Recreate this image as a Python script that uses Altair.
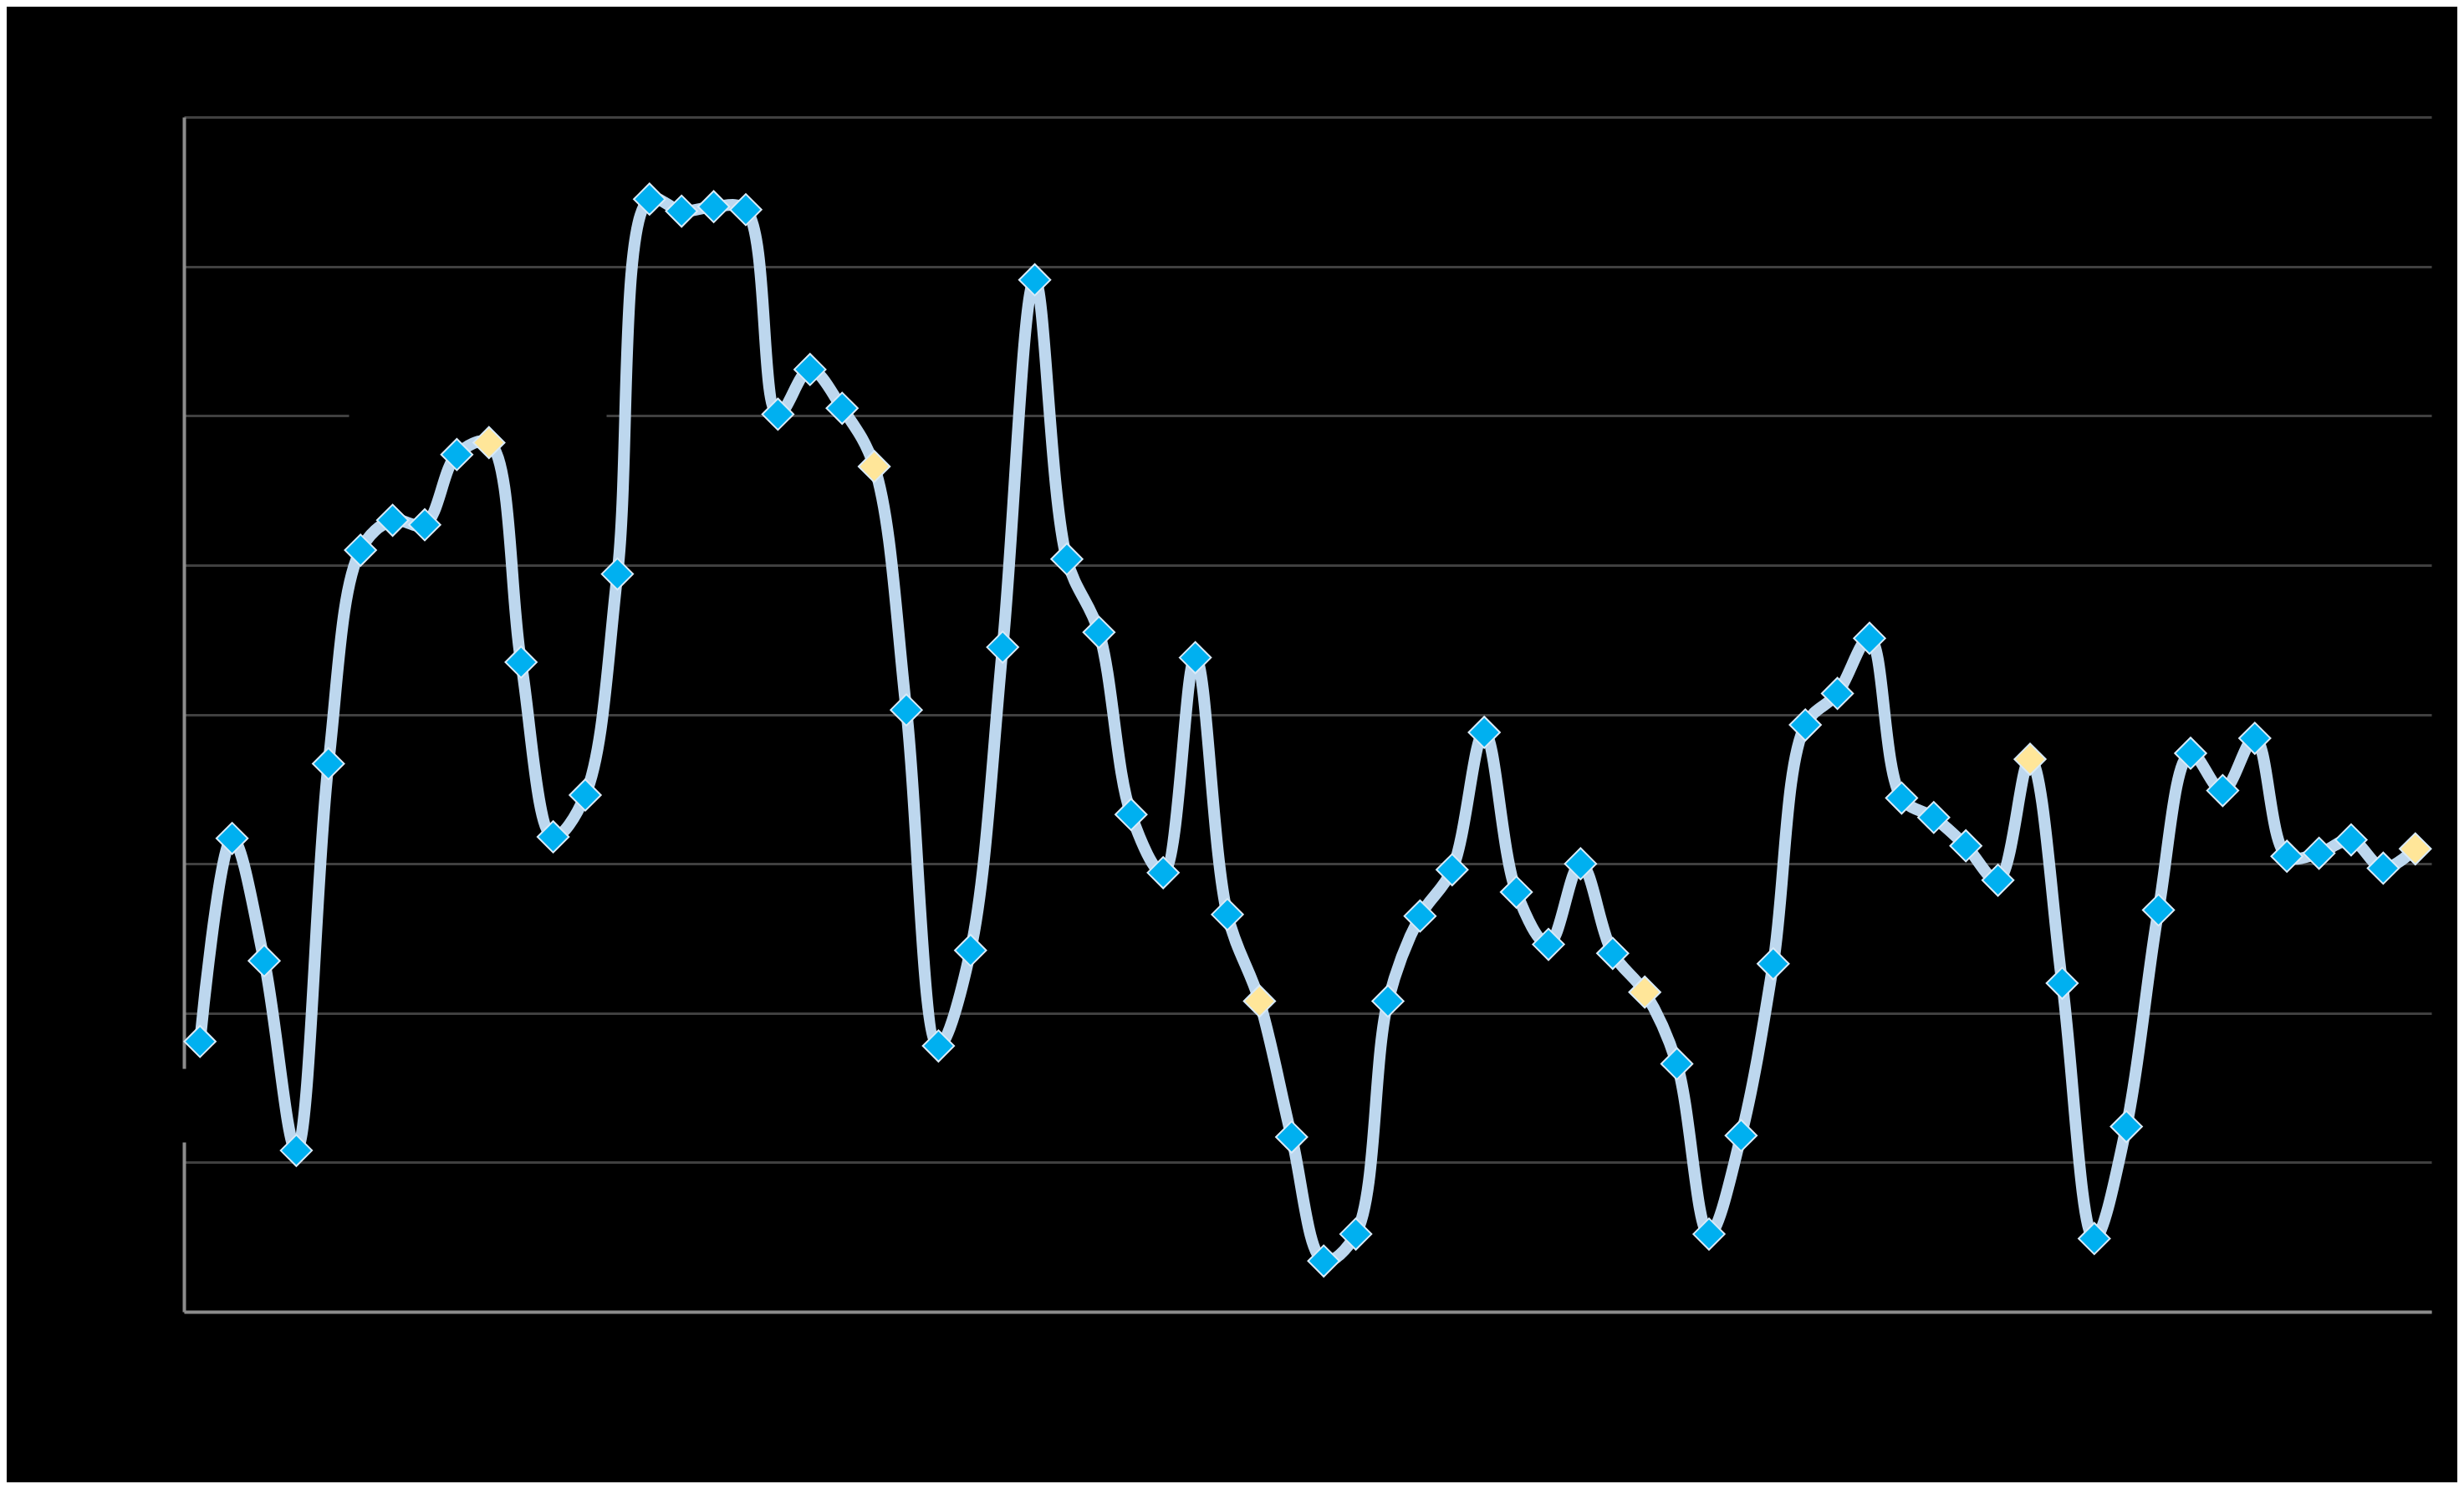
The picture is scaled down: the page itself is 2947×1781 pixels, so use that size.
import altair as alt
import pandas as pd

# Series values (70 consecutive periods)
values = [
    1.81, 3.17, 2.35, 1.08, 3.67, 5.10, 5.30, 5.27, 5.74, 5.82,
    4.35, 3.18, 3.46, 4.94, 7.45, 7.37, 7.40, 7.38, 6.01, 6.31,
    6.05, 5.66, 4.03, 1.78, 2.42, 4.45, 6.91, 5.04, 4.55, 3.33,
    2.94, 4.38, 2.66, 2.08, 1.17, 0.34, 0.52, 2.08, 2.65, 2.96,
    3.88, 2.81, 2.46, 3.00, 2.40, 2.14, 1.66, 0.52, 1.18, 2.33,
    3.93, 4.14, 4.51, 3.44, 3.31, 3.12, 2.89, 3.70, 2.20, 0.49,
    1.24, 2.69, 3.74, 3.49, 3.84, 3.05, 3.07, 3.16, 2.97, 3.10,
]
periods = list(range(1, 71))
highlighted = [10, 22, 34, 46, 58, 70]
y_ticks = [0, 1, 2, 3, 4, 5, 6, 7, 8]

df = pd.DataFrame({
    "period": periods,
    "value": values,
    "kind": ["highlight" if p in highlighted else "normal" for p in periods],
})

x_enc = alt.X(
    "period:Q",
    scale=alt.Scale(domain=[0.5, 70.5], nice=False, zero=False),
    axis=alt.Axis(labels=False, ticks=False, grid=False, title=None,
                  domainColor="#8c8c8c", domainWidth=4),
)
y_enc = alt.Y(
    "value:Q",
    scale=alt.Scale(domain=[0, 8], nice=False),
    axis=alt.Axis(values=y_ticks, labels=False, ticks=False, title=None,
                  gridColor="#404040", gridWidth=3,
                  gridDash={"condition": {"test": "datum.value === 6", "value": [197, 308, 4000]}, "value": [4000, 0]},
                  domainColor="#8c8c8c", domainWidth=4,
                  domainDash=[203, 88, 4000]),
)

base = alt.Chart(df)

line = base.mark_line(
    color="#BDD7EE", strokeWidth=14, interpolate="catmull-rom"
).encode(x=x_enc, y=y_enc)

points = base.mark_point(
    shape="diamond", filled=True, size=1400, opacity=1,
    stroke="#D9EBF9", strokeWidth=2,
).encode(
    x="period:Q",
    y="value:Q",
    color=alt.Color("kind:N",
                    scale=alt.Scale(domain=["normal", "highlight"],
                                    range=["#00B0F0", "#FFE699"]),
                    legend=None),
)

chart = alt.layer(line, points).properties(
    width=2688,
    height=1429,
    padding={"left": 212, "top": 132, "right": 31, "bottom": 204},
    autosize=alt.AutoSizeParams(type="none"),
    background="black",
).configure_view(stroke=None)

chart.save("out.html", embed_options={"renderer": "svg", "actions": False})
